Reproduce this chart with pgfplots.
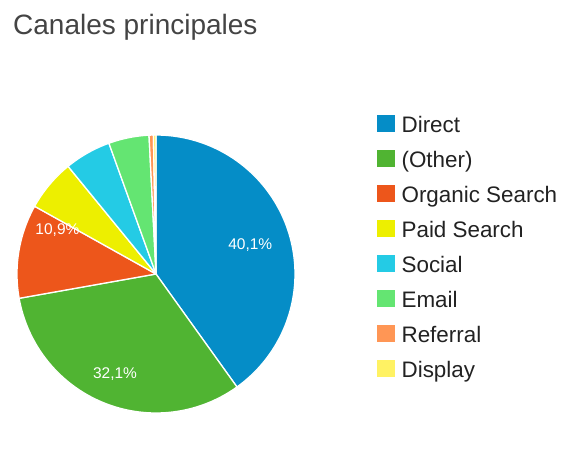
\documentclass[border=0pt]{standalone}
\usepackage{pgfplots}
\pgfplotsset{compat=1.18}
\usepackage{pgfplotstable}
\usepackage{fontspec}
\setmainfont{Liberation Sans}
\definecolor{cDirect}{HTML}{058DC7}
\definecolor{cOther}{HTML}{50B432}
\definecolor{cOrganic}{HTML}{ED561B}
\definecolor{cPaid}{HTML}{EDEF00}
\definecolor{cSocial}{HTML}{24CBE5}
\definecolor{cEmail}{HTML}{64E572}
\definecolor{cReferral}{HTML}{FF9655}
\definecolor{cDisplay}{HTML}{FFF263}
\definecolor{titlegray}{HTML}{444444}
\definecolor{legtext}{HTML}{222222}

% channel shares (percent)
\pgfplotstableread[col sep=comma]{
name,value
Direct,40.1
(Other),32.1
Organic Search,10.9
Paid Search,6.0
Social,5.4
Email,4.7
Referral,0.5
Display,0.3
}\shares

\gdef\cum{0}
\newcommand\slice[3]{%
  \pgfmathsetmacro\aend{90-\cum*3.6}%
  \pgfmathsetmacro\cumnew{\cum+#1}%
  \pgfmathsetmacro\astart{90-\cumnew*3.6}%
  \xdef\cum{\cumnew}%
  \edef\temp{\noexpand\addplot[fill=#2, draw=white, line width=1.3pt, line join=round, domain=\astart:\aend, samples=90] ({cos(x)},{sin(x)}) -- (axis cs:0,0) -- cycle;}\temp
  \addlegendentry{#3}%
}

\begin{document}
\begin{tikzpicture}
\path[use as bounding box] (0,0) rectangle (579pt,456pt);
\node[anchor=base west, inner sep=0pt, text=titlegray, font=\fontsize{28}{30}\selectfont] at (13pt,421pt) {Canales principales};
\begin{axis}[
  at={(156pt,182pt)}, anchor=origin,
  x=139pt, y=139pt,
  xmin=-1.1223, xmax=3.0432, ymin=-1.3094, ymax=1.9712,
  hide axis, clip=false,
  legend cell align=left,
  legend image code/.code={\fill[#1, draw=none] (0pt,-5pt) rectangle (18pt,12pt);},
  legend style={at={(axis cs:1.590,1.142)}, anchor=north west,
    draw=none, fill=none, inner sep=0pt, outer sep=0pt,
    text=legtext, font=\fontsize{22.4}{24}\selectfont,
    row sep=12.4pt,
    nodes={inner sep=0pt, outer sep=0pt, text height=16pt, text depth=5pt},
    /tikz/every odd column/.append style={column sep=6.6pt}},
]
\pgfplotstablegetelem{0}{value}\of\shares \let\vA\pgfplotsretval
\pgfplotstablegetelem{1}{value}\of\shares \let\vB\pgfplotsretval
\pgfplotstablegetelem{2}{value}\of\shares \let\vC\pgfplotsretval
\pgfplotstablegetelem{3}{value}\of\shares \let\vD\pgfplotsretval
\pgfplotstablegetelem{4}{value}\of\shares \let\vE\pgfplotsretval
\pgfplotstablegetelem{5}{value}\of\shares \let\vF\pgfplotsretval
\pgfplotstablegetelem{6}{value}\of\shares \let\vG\pgfplotsretval
\pgfplotstablegetelem{7}{value}\of\shares \let\vH\pgfplotsretval
\slice{\vA}{cDirect}{Direct}
\slice{\vB}{cOther}{(Other)}
\slice{\vC}{cOrganic}{Organic Search}
\slice{\vD}{cPaid}{Paid Search}
\slice{\vE}{cSocial}{Social}
\slice{\vF}{cEmail}{Email}
\slice{\vG}{cReferral}{Referral}
\slice{\vH}{cDisplay}{Display}
\node[anchor=base, text=white, inner sep=0pt, font=\fontsize{15.5}{17}\selectfont] at (axis cs:0.678,0.178) {40,1\%};
\node[anchor=base, text=white, inner sep=0pt, font=\fontsize{15.5}{17}\selectfont] at (axis cs:-0.295,-0.755) {32,1\%};
\node[anchor=base, text=white, inner sep=0pt, font=\fontsize{15.5}{17}\selectfont] at (axis cs:-0.709,0.281) {10,9\%};
\end{axis}
\end{tikzpicture}
\end{document}
